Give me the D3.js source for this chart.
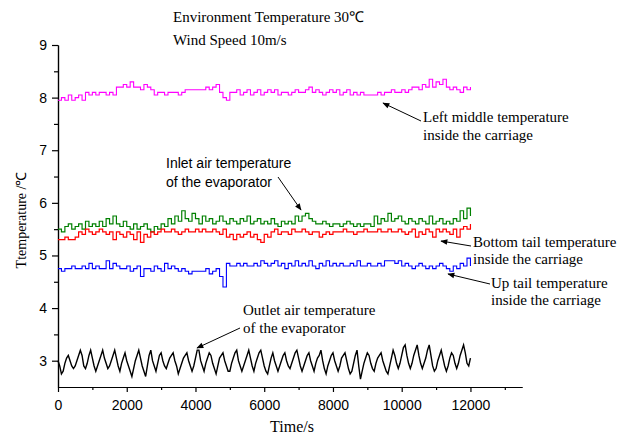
<!DOCTYPE html>
<meta charset="utf-8">
<script src="https://d3js.org/d3.v7.min.js"></script>
<style>
body { margin: 0; background: #fff; }
.line { fill: none; stroke-width: 1px; }
.axis path, .axis line { stroke: #000; stroke-width: 1.2px; }
.axis text { fill: #000; font: 14px "Liberation Sans", Arial, sans-serif; }
.serif { font-family: "Liberation Serif", "Times New Roman", serif; fill: #000; }
</style>
<body>
<div id="chart"></div>
<script>
// sample times (s)
var timeStep = 100;
var blackStep = 50;

// left middle temperature inside the carriage (magenta), every 100 s from 0 to 12000
var leftMiddle = [
    7.95, 8.0, 7.95, 8.05, 7.95, 8.0,
    8.05, 7.95, 8.1, 8.05, 8.1,
    8.05, 8.1, 8.1, 8.05, 8.1,
    8.05, 8.2, 8.2, 8.25, 8.2,
    8.3, 8.2, 8.2, 8.15, 8.25,
    8.2, 8.15, 8.05, 8.1, 8.1,
    8.05, 8.1, 8.1, 8.1, 8.05,
    8.1, 8.15, 8.15, 8.15, 8.15,
    8.15, 8.15, 8.2, 8.15, 8.2,
    8.25, 8.1, 8.0, 7.95, 8.1,
    8.1, 8.15, 8.05, 8.1, 8.15,
    8.05, 8.1, 8.15, 8.05, 8.1,
    8.15, 8.1, 8.15, 8.05, 8.1,
    8.1, 8.05, 8.1, 8.15, 8.1,
    8.1, 8.15, 8.2, 8.1, 8.15,
    8.1, 8.05, 8.1, 8.15, 8.1,
    8.15, 8.05, 8.1, 8.15, 8.05,
    8.1, 8.05, 8.1, 8.05, 8.05,
    8.05, 8.05, 8.1, 8.05, 8.1,
    8.1, 8.15, 8.1, 8.1, 8.15,
    8.1, 8.15, 8.2, 8.2, 8.15,
    8.25, 8.2, 8.35, 8.2, 8.3,
    8.25, 8.35, 8.2, 8.15, 8.2,
    8.15, 8.1, 8.2, 8.15, 8.2
];

// inlet air temperature of the evaporator (green)
var inletAir = [
    5.5, 5.45, 5.55, 5.6, 5.5, 5.55,
    5.6, 5.5, 5.65, 5.55, 5.6,
    5.55, 5.65, 5.55, 5.7, 5.6,
    5.75, 5.6, 5.55, 5.65, 5.55,
    5.5, 5.6, 5.5, 5.55, 5.6,
    5.5, 5.45, 5.55, 5.5, 5.6,
    5.55, 5.7, 5.6, 5.75, 5.65,
    5.85, 5.7, 5.65, 5.8, 5.7,
    5.6, 5.75, 5.65, 5.7, 5.6,
    5.65, 5.75, 5.65, 5.6, 5.7,
    5.65, 5.6, 5.7, 5.65, 5.75,
    5.6, 5.65, 5.7, 5.6, 5.65,
    5.6, 5.7, 5.6, 5.55, 5.65,
    5.6, 5.65, 5.6, 5.75, 5.65,
    5.75, 5.8, 5.7, 5.65, 5.6,
    5.6, 5.65, 5.6, 5.55, 5.6,
    5.6, 5.55, 5.6, 5.65, 5.6,
    5.55, 5.6, 5.55, 5.6, 5.6,
    5.55, 5.75, 5.6, 5.7, 5.65,
    5.8, 5.65, 5.7, 5.75, 5.65,
    5.6, 5.7, 5.65, 5.6, 5.7,
    5.65, 5.6, 5.75, 5.6, 5.65,
    5.7, 5.6, 5.65, 5.6, 5.7,
    5.65, 5.85, 5.7, 5.9, 5.75
];

// bottom tail temperature inside the carriage (red)
var bottomTail = [
    5.3, 5.3, 5.35, 5.3, 5.3, 5.35,
    5.45, 5.4, 5.5, 5.45, 5.4,
    5.45, 5.5, 5.45, 5.4, 5.45,
    5.3, 5.45, 5.4, 5.35, 5.45,
    5.4, 5.3, 5.45, 5.25, 5.4,
    5.35, 5.45, 5.4, 5.45, 5.5,
    5.45, 5.45, 5.5, 5.45, 5.4,
    5.45, 5.5, 5.45, 5.45, 5.5,
    5.45, 5.5, 5.45, 5.45, 5.5,
    5.45, 5.4, 5.5, 5.35, 5.4,
    5.3, 5.4, 5.35, 5.4, 5.45,
    5.35, 5.4, 5.3, 5.25, 5.4,
    5.35, 5.45, 5.5, 5.4, 5.45,
    5.45, 5.4, 5.5, 5.45, 5.45,
    5.5, 5.45, 5.4, 5.45, 5.45,
    5.35, 5.4, 5.45, 5.4, 5.45,
    5.45, 5.45, 5.5, 5.45, 5.45,
    5.4, 5.45, 5.45, 5.5, 5.45,
    5.45, 5.45, 5.5, 5.45, 5.45,
    5.5, 5.45, 5.45, 5.5, 5.45,
    5.4, 5.45, 5.5, 5.35, 5.45,
    5.4, 5.5, 5.45, 5.35, 5.5,
    5.45, 5.5, 5.45, 5.4, 5.5,
    5.35, 5.5, 5.55, 5.5, 5.6
];

// up tail temperature inside the carriage (blue)
var upTail = [
    4.75, 4.7, 4.75, 4.75, 4.8, 4.75,
    4.75, 4.8, 4.75, 4.85, 4.75,
    4.8, 4.75, 4.75, 4.9, 4.75,
    4.85, 4.8, 4.75, 4.75, 4.8,
    4.7, 4.75, 4.8, 4.6, 4.75,
    4.75, 4.7, 4.8, 4.75, 4.7,
    4.85, 4.75, 4.8, 4.75, 4.7,
    4.75, 4.7, 4.65, 4.7, 4.7,
    4.7, 4.7, 4.75, 4.65, 4.7,
    4.75, 4.6, 4.4, 4.85, 4.8,
    4.8, 4.85, 4.8, 4.85, 4.8,
    4.8, 4.85, 4.8, 4.9, 4.85,
    4.8, 4.85, 4.9, 4.8, 4.85,
    4.75, 4.85, 4.8, 4.9, 4.8,
    4.85, 4.8, 4.9, 4.8, 4.75,
    4.85, 4.8, 4.9, 4.8, 4.85,
    4.8, 4.85, 4.8, 4.8, 4.85,
    4.8, 4.9, 4.8, 4.8, 4.85,
    4.8, 4.8, 4.85, 4.8, 4.9,
    4.9, 4.9, 4.85, 4.9, 4.8,
    4.85, 4.8, 4.75, 4.8, 4.85,
    4.8, 4.75, 4.8, 4.75, 4.8,
    4.85, 4.8, 4.75, 4.7, 4.8,
    4.75, 4.85, 4.8, 4.95, 4.8
];

// outlet air temperature of the evaporator (black), every 50 s from 0 to 12000
var outletAir = [
    3.0, 2.9, 2.75, 2.8, 2.95, 3.05, 3.1, 3.0, 2.9, 2.85, 2.9, 3.0, 3.1, 3.2, 3.1, 2.9, 2.85, 2.95, 3.1, 3.2,
    3.05, 2.9, 2.8, 2.9, 3.0, 3.1, 3.2, 3.05, 2.95, 2.85, 2.9, 3.0, 3.1, 3.2, 3.05, 2.9, 2.8, 2.95, 3.05, 3.15,
    3.0, 2.9, 2.8, 2.7, 2.85, 3.0, 3.1, 3.2, 3.05, 2.9, 2.8, 2.7, 2.9, 3.1, 3.2, 3.0, 2.9, 2.8, 2.95, 3.1,
    3.15, 3.0, 2.9, 2.85, 2.95, 3.05, 3.1, 3.15, 3.0, 2.9, 2.75, 2.85, 2.95, 3.05, 3.1, 3.15, 3.0, 2.9, 2.8, 2.9,
    3.05, 3.2, 3.2, 3.0, 2.9, 2.8, 2.95, 3.05, 3.15, 3.1, 2.95, 2.85, 2.75, 2.9, 3.05, 3.1, 3.15, 3.0, 2.9, 2.8,
    2.8, 2.95, 3.05, 3.15, 3.2, 3.0, 2.9, 2.8, 2.9, 3.0, 3.1, 3.2, 3.05, 2.9, 2.8, 2.95, 3.05, 3.15, 3.2, 3.05,
    2.9, 2.8, 2.75, 2.9, 3.05, 3.15, 3.0, 2.9, 2.8, 2.9, 3.0, 3.1, 3.15, 3.0, 2.9, 2.85, 2.95, 3.05, 3.15, 3.2,
    3.05, 2.9, 2.8, 2.9, 3.0, 3.1, 3.15, 3.0, 2.9, 2.8, 2.95, 3.05, 3.1, 3.2, 3.0, 2.85, 2.75, 2.9, 3.0, 3.1,
    3.15, 3.0, 2.9, 2.8, 2.9, 3.05, 3.1, 3.15, 3.0, 2.85, 2.75, 2.8, 2.95, 3.1, 3.2, 2.9, 2.65, 2.8, 2.95, 3.05,
    3.15, 3.1, 2.95, 2.85, 2.8, 2.95, 3.05, 3.1, 3.15, 3.0, 2.9, 2.8, 2.75, 2.9, 3.05, 3.2, 3.1, 2.95, 2.85, 2.95,
    3.1, 3.25, 3.3, 3.1, 2.95, 2.85, 2.95, 3.1, 3.2, 3.3, 3.1, 2.95, 2.85, 2.95, 3.05, 3.2, 3.3, 3.1, 2.9, 2.8,
    2.85, 3.0, 3.1, 3.2, 3.05, 2.9, 2.8, 2.9, 3.05, 3.15, 3.1, 2.95, 2.85, 2.95, 3.1, 3.2, 3.3, 3.15, 2.95, 2.9,
    3.05
];

// axis ticks
var xTicks = [0, 2000, 4000, 6000, 8000, 10000, 12000];
var yTicks = [3, 4, 5, 6, 7, 8, 9];

// svg size
var width = 626, height = 437;
var margin = {top: 45, right: 104, bottom: 50, left: 58};

var svg = d3.select('#chart')
    .append('svg')
    .attr('width', width)
    .attr('height', height);

// scales
var xscale = d3.scaleLinear()
    .domain([0, 13500])
    .range([margin.left, width - margin.right]);

var yscale = d3.scaleLinear()
    .domain([2.5, 9])
    .range([height - margin.bottom, margin.top]);

// minor ticks
svg.append('g')
    .attr('class', 'axis')
    .attr('transform', 'translate(0,' + (height - margin.bottom) + ')')
    .call(d3.axisBottom(xscale).tickValues(d3.range(1000, 13001, 2000)).tickSize(3).tickSizeOuter(0).tickFormat(''));

svg.append('g')
    .attr('class', 'axis')
    .attr('transform', 'translate(' + margin.left + ',0)')
    .call(d3.axisLeft(yscale).tickValues(d3.range(3.5, 9, 1)).tickSize(4).tickSizeOuter(0).tickFormat(''));

// major ticks
svg.append('g')
    .attr('class', 'axis')
    .attr('transform', 'translate(0,' + (height - margin.bottom) + ')')
    .call(d3.axisBottom(xscale).tickValues(xTicks).tickSize(5).tickPadding(8).tickSizeOuter(0).tickFormat(d3.format('d')));

svg.append('g')
    .attr('class', 'axis')
    .attr('transform', 'translate(' + margin.left + ',0)')
    .call(d3.axisLeft(yscale).tickValues(yTicks).tickSize(6).tickPadding(5).tickSizeOuter(0).tickFormat(d3.format('d')));

// lines
var series = [
    {values: outletAir, step: blackStep, color: '#000000', width: 1.4},
    {values: upTail, step: timeStep, color: '#0000ff', width: 1.1},
    {values: leftMiddle, step: timeStep, color: '#ff00ff', width: 1.1},
    {values: inletAir, step: timeStep, color: '#008000', width: 1.2},
    {values: bottomTail, step: timeStep, color: '#ff0000', width: 1.2}
];

series.forEach(function(s) {
    var pts = s.values.map(function(v, i) { return {t: i * s.step, v: v}; });
    var line = d3.line()
        .x(function(d) { return xscale(d.t); })
        .y(function(d) { return yscale(d.v); })
        .curve(s.step == timeStep ? d3.curveStepAfter : d3.curveLinear);
    svg.append('path')
        .datum(pts)
        .attr('class', 'line')
        .style('stroke', s.color)
        .style('stroke-width', s.width)
        .attr('d', line);
});

// arrow head
svg.append('defs').append('marker')
    .attr('id', 'arrow')
    .attr('viewBox', '0 0 10 10')
    .attr('refX', 9).attr('refY', 5)
    .attr('markerWidth', 8).attr('markerHeight', 7)
    .attr('markerUnits', 'userSpaceOnUse')
    .attr('orient', 'auto')
    .append('path')
    .attr('d', 'M0,1 L10,5 L0,9 Z')
    .attr('fill', '#000');

// annotations: text lines and arrow (from -> to)
var notes = [
    {lines: ['Left middle temperature', 'inside the carriage'], x: 423, y: 122, gap: 18, serif: true,
     from: [421, 121], to: [383, 103]},
    {lines: ['Inlet air temperature', 'of the evaporator'], x: 166, y: 168, gap: 19, serif: false,
     from: [278, 177], to: [301, 210]},
    {lines: ['Bottom tail temperature', 'inside the carriage'], x: 473, y: 247, gap: 17, serif: true,
     from: [471, 246], to: [441, 241]},
    {lines: ['Up tail temperature', 'inside the carriage'], x: 491, y: 288, gap: 17, serif: true,
     from: [490, 284], to: [448, 274]},
    {lines: ['Outlet air temperature', 'of the evaporator'], x: 243, y: 315, gap: 18, serif: true,
     from: [240, 328], to: [197, 348]}
];

notes.forEach(function(n) {
    n.lines.forEach(function(txt, i) {
        var t = svg.append('text')
            .text(txt)
            .attr('x', n.x)
            .attr('y', n.y + i * n.gap);
        if (n.serif) {
            t.attr('class', 'serif').style('font-size', '15px');
        } else {
            t.style('font', '14px "Liberation Sans", Arial, sans-serif').style('fill', '#000');
        }
    });
    svg.append('line')
        .attr('x1', n.from[0]).attr('y1', n.from[1])
        .attr('x2', n.to[0]).attr('y2', n.to[1])
        .attr('stroke', '#000')
        .attr('stroke-width', 1)
        .attr('marker-end', 'url(#arrow)');
});

// title
svg.append('text')
    .attr('class', 'serif')
    .text('Environment Temperature 30℃')
    .attr('x', 173).attr('y', 22)
    .style('font-size', '15px');

svg.append('text')
    .attr('class', 'serif')
    .text('Wind Speed 10m/s')
    .attr('x', 173).attr('y', 45)
    .style('font-size', '15px');

// axis labels
svg.append('text')
    .attr('class', 'serif')
    .text('Time/s')
    .attr('text-anchor', 'middle')
    .attr('x', 292)
    .attr('y', 432)
    .style('font-size', '16px');

svg.append('text')
    .attr('class', 'serif')
    .text('Ttemperature /℃')
    .attr('text-anchor', 'middle')
    .attr('transform', 'rotate(-90)')
    .attr('x', -220)
    .attr('y', 26)
    .style('font-size', '14px');
</script>
</body>
</html>
